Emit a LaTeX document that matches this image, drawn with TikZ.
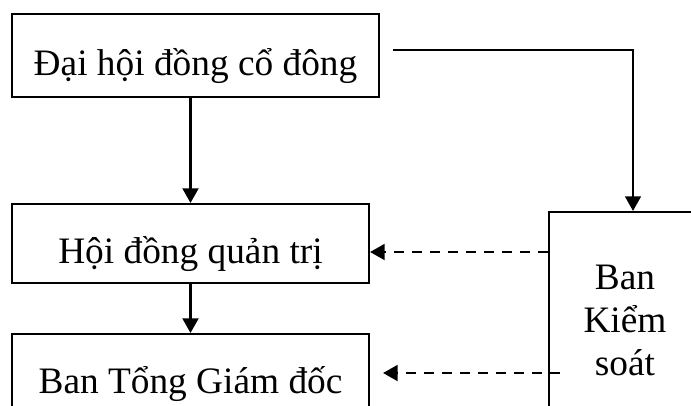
\documentclass[tikz,border=0pt]{standalone}
\usepackage{fontspec}
\setmainfont{Liberation Serif}
\usetikzlibrary{arrows.meta,positioning}

\tikzset{
	chu/.style={font=\fontsize{28}{32.25}\selectfont},
	khoi/.style={draw, line width=1.6pt, inner sep=0pt, chu, text height=30pt, text depth=0pt},
	muiten/.style={line width=1.6pt, -{Triangle[length=11pt,width=12pt]}},
	netdut/.style={muiten, dash pattern=on 7.5pt off 6pt},
}

\begin{document}
\begin{tikzpicture}[x=0.75pt,y=-0.75pt]
	\useasboundingbox (0,0) rectangle (691,405);
	
	% dai hoi dong co dong
	\node[khoi, minimum width=275.25pt, minimum height=62.25pt] (dhcd) at (195.5,55.5) {Đại hội đồng cổ đông};
	
	% hoi dong quan tri
	\node[khoi, minimum width=267.75pt, minimum height=59.25pt] (hdqt) at (190.5,243.5) {Hội đồng quản trị};
	
	% ban tong giam doc
	\node[khoi, minimum width=267.75pt, minimum height=59.25pt] (btgd) at (190.5,373.5) {Ban Tổng Giám đốc};
	
	% ban kiem soat
	\node[draw, line width=1.6pt, chu, align=center, minimum width=114pt, minimum height=162pt] (bks) at (625,320) {Ban\\Kiểm\\soát};
	
	% cac mui ten chinh
	\draw[muiten] (dhcd.south -| hdqt.north) -- (hdqt.north);
	\draw[muiten] (hdqt.south) -- (btgd.north);
	\draw[muiten, line width=1.2pt] ([xshift=9.75pt]dhcd.east |- 0,50) -| (633,0 |- bks.north);
	
	% kiem soat (net dut)
	\draw[netdut] (bks.west |- 0,252) -- (hdqt.east |- 0,252);
	\coordinate (bks ra) at (560,373);
	\draw[netdut] (bks ra) -- ([xshift=9.75pt]btgd.east |- bks ra);
\end{tikzpicture}
\end{document}
